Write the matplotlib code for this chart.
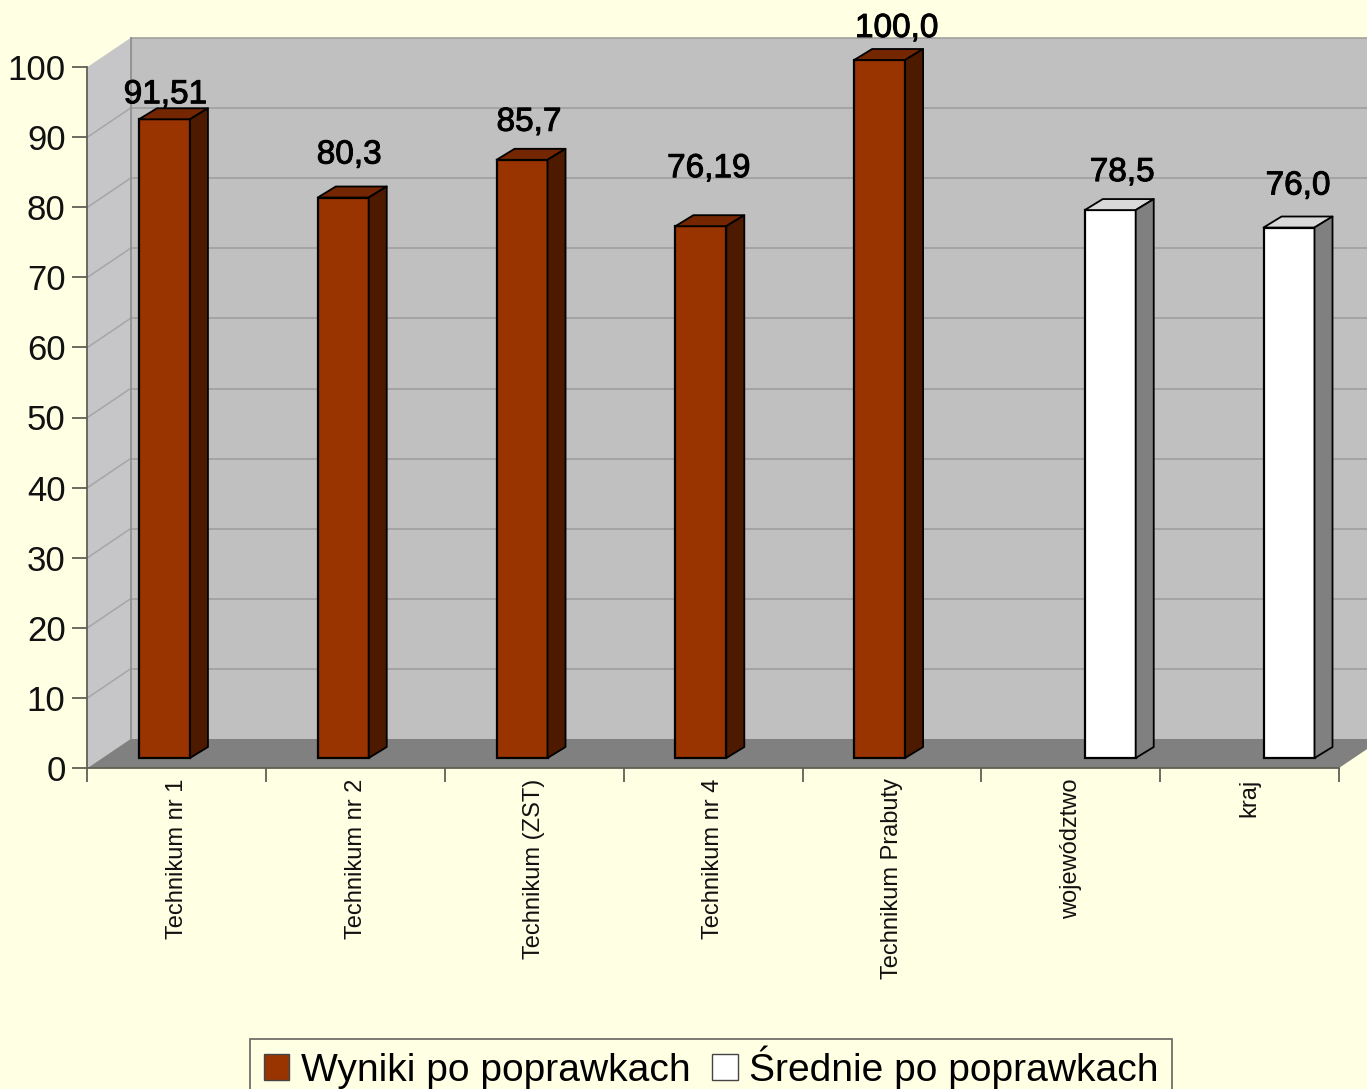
import numpy as np
import matplotlib
matplotlib.use("Agg")
import matplotlib.pyplot as plt
import matplotlib.patheffects as pe
from matplotlib.patches import Polygon, Rectangle
from matplotlib.transforms import Affine2D, IdentityTransform

categories = ["Technikum nr 1", "Technikum nr 2", "Technikum (ZST)", "Technikum nr 4",
              "Technikum Prabuty", "województwo", "kraj"]
wyniki = [91.51, 80.3, 85.7, 76.19, 100.0]
srednie = [78.5, 76.0]
wyniki_labels = ["91,51", "80,3", "85,7", "76,19", "100,0"]
srednie_labels = ["78,5", "76,0"]
y_ticks = list(range(0, 101, 10))

# where the labels sit compared to the bar top, in pixels (placed by hand in the original)
wyniki_label_dx = [1, 6, 7, 8, 17]
wyniki_label_dy = [16, 34, 29, 49, 23]
srednie_label_dx = [12, 9]
srednie_label_dy = [29, 33]

W, H = 1367, 1089
BG = "#FFFFE4"
WALL_DX, WALL_DY = 43, 29
BAR_DX, BAR_DY = 18, 11
BAR_W = 0.285
PT = 0.72  # pixels to points at dpi 100

plt.rcParams["font.family"] = ["Liberation Sans", "DejaVu Sans"]

fig = plt.figure(figsize=(W / 100, H / 100), dpi=100, facecolor=BG)
ax = fig.add_axes([87.5 / W, (H - 768) / H, (1339 - 87.5) / W, 701 / H])
ax.set_xlim(0, len(categories))
ax.set_ylim(0, 100)
ax.patch.set_visible(False)
for s in ["top", "right"]:
    ax.spines[s].set_visible(False)
for s in ["left", "bottom"]:
    ax.spines[s].set_color("#5F5F55")
    ax.spines[s].set_linewidth(1.3)
    ax.spines[s].set_zorder(4)


def px(x, y, dx=0, dy=0):
    p = ax.transData.transform((x, y))
    return (p[0] + dx, p[1] + dy)


def poly(points, **kw):
    ax.add_patch(Polygon(points, closed=True, transform=IdentityTransform(), clip_on=False, **kw))


############################ walls and floor ############################
n = len(categories)
poly([px(0, 0), px(0, 100), px(0, 100, WALL_DX, WALL_DY), px(0, 0, WALL_DX, WALL_DY)],
     facecolor="#C6C6C8", edgecolor="none", zorder=1)
poly([px(0, 0, WALL_DX, WALL_DY), px(0, 100, WALL_DX, WALL_DY),
      px(n, 100, WALL_DX, WALL_DY), px(n, 0, WALL_DX, WALL_DY)],
     facecolor="#C0C0C0", edgecolor="none", zorder=1)
poly([px(0, 0), px(n, 0), px(n, 0, WALL_DX, WALL_DY), px(0, 0, WALL_DX, WALL_DY)],
     facecolor="#808080", edgecolor="none", zorder=1.5)

wall_trans = ax.transData + Affine2D().translate(WALL_DX, WALL_DY)
for v in y_ticks[1:]:
    ax.plot([0, n], [v, v], transform=wall_trans, color="#9C9C9C", lw=1.1, zorder=2, clip_on=False)
    a, b = px(0, v), px(0, v, WALL_DX, WALL_DY)
    ax.plot([a[0], b[0]], [a[1], b[1]], transform=IdentityTransform(), color="#A6A6A6", lw=1.1, zorder=2)
ax.plot([0, 0], [0, 100], transform=wall_trans, color="#8E8E8E", lw=1.3, zorder=2.5, clip_on=False)
a, b = px(n, 0), px(n, 0, WALL_DX, WALL_DY)
ax.plot([a[0], b[0]], [a[1], b[1]], transform=IdentityTransform(), color="#5F5F55", lw=1.2, zorder=2.5)

############################ bars ############################
bar_trans = Affine2D().scale(1, 698 / 701) + ax.transData + Affine2D().translate(13.5, 10)


def draw_bars(xs, values, front, side, top, name, labels, ldx, ldy):
    bars = ax.bar(xs, values, width=BAR_W, color=front, edgecolor="black", linewidth=1.6,
                  transform=bar_trans, zorder=3, label=name, clip_on=False)
    for x, v, txt, dx, dy in zip(xs, values, labels, ldx, ldy):
        x0, x1 = x - BAR_W / 2, x + BAR_W / 2
        a = bar_trans.transform((x0, v))
        b = bar_trans.transform((x1, v))
        c = bar_trans.transform((x1, 0))
        poly([a, b, (b[0] + BAR_DX, b[1] + BAR_DY), (a[0] + BAR_DX, a[1] + BAR_DY)],
             facecolor=top, edgecolor="black", linewidth=1.3, joinstyle="round", zorder=3)
        poly([b, c, (c[0] + BAR_DX, c[1] + BAR_DY), (b[0] + BAR_DX, b[1] + BAR_DY)],
             facecolor=side, edgecolor="black", linewidth=1.3, joinstyle="round", zorder=3)
        mid = (a[0] + b[0]) / 2
        t = ax.annotate(txt, xy=(mid + dx, a[1] + dy), xycoords=IdentityTransform(),
                        ha="center", va="baseline", fontsize=24, color="black", zorder=6)
        t.set_path_effects([pe.withStroke(linewidth=0.7, foreground="black")])
    return bars


cat_x = np.arange(n) + 0.5
b1 = draw_bars(cat_x[:5] - 0.29 / 2, wyniki, "#993300", "#4D1A00", "#732600", "Wyniki po poprawkach",
               wyniki_labels, wyniki_label_dx, wyniki_label_dy)
b2 = draw_bars(cat_x[5:] + 0.29 / 2, srednie, "#FFFFFF", "#808080", "#D9D9D9", "Średnie po poprawkach",
               srednie_labels, srednie_label_dx, srednie_label_dy)

############################ axis text ############################
ax.set_yticks(y_ticks)
ax.tick_params(axis="y", length=15 * PT, width=1.3, color="#5F5F55", labelsize=25, pad=5, labelcolor="#111111")
ax.set_xticks(np.arange(n + 1))
ax.tick_params(axis="x", which="major", length=14 * PT, width=1.3, color="#5F5F55", labelbottom=False)
ax.set_xticks(cat_x, minor=True)
ax.set_xticklabels(categories, minor=True, rotation=90, ha="center", va="top", fontsize=17, color="#111111")
ax.tick_params(axis="x", which="minor", length=0, pad=7.5)

############################ legend ############################
# the frame runs off the bottom of the picture, so it is drawn apart from the legend
fig.add_artist(Rectangle((250 / W, -20 / H), 922 / W, (H - 1039 + 20) / H, transform=fig.transFigure,
                         facecolor=BG, edgecolor="#70706A", linewidth=1.3, zorder=5))
leg = ax.legend(handles=[b1, b2], loc="lower left", ncol=2, bbox_to_anchor=(264 / W, 0),
                bbox_transform=fig.transFigure, fontsize=28.1, frameon=False, handlelength=0.65,
                handleheight=0.65, handletextpad=0.3, columnspacing=0.55, borderaxespad=0, borderpad=0)
ax.set_zorder(6)
for h in leg.legend_handles:
    h.set_linewidth(1.0)
    h.set_edgecolor("#444444")

fig.savefig("out.png", dpi=100, facecolor=BG)
